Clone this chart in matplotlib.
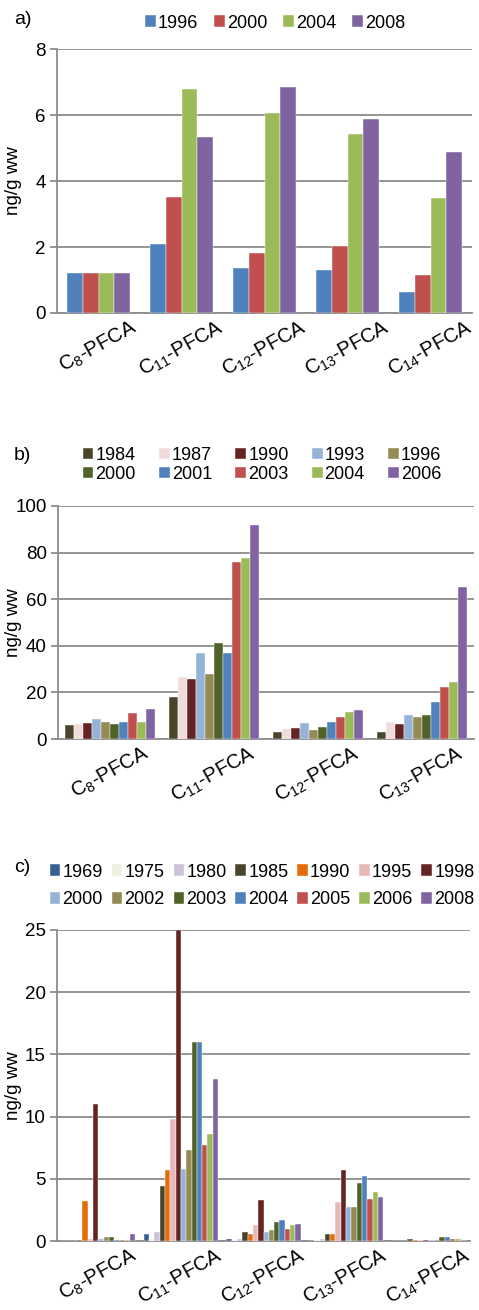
import matplotlib
matplotlib.use("Agg")
import matplotlib.pyplot as plt
import numpy as np

plt.rcParams['font.family'] = ['Liberation Sans', 'DejaVu Sans']
plt.rcParams['mathtext.fontset'] = 'custom'
plt.rcParams['mathtext.rm'] = 'Liberation Sans'
plt.rcParams['mathtext.default'] = 'regular'

W, H = 479, 1310

# ---- panel a
cats_a = ['C$_{8}$-PFCA', 'C$_{11}$-PFCA', 'C$_{12}$-PFCA', 'C$_{13}$-PFCA', 'C$_{14}$-PFCA']
years_a = ['1996', '2000', '2004', '2008']
vals_a = [
    [1.2, 2.1, 1.35, 1.3, 0.65],
    [1.2, 3.52, 1.83, 2.04, 1.15],
    [1.2, 6.8, 6.06, 5.42, 3.48],
    [1.2, 5.33, 6.86, 5.88, 4.88],
]
cols_a = ['#4F81BD', '#C0504D', '#9BBB59', '#8064A2']

# ---- panel b
cats_b = ['C$_{8}$-PFCA', 'C$_{11}$-PFCA', 'C$_{12}$-PFCA', 'C$_{13}$-PFCA']
years_b = ['1984', '1987', '1990', '1993', '1996', '2000', '2001', '2003', '2004', '2006']
vals_b = [
    [6.0, 18.0, 3.2, 3.2],
    [6.5, 26.5, 4.4, 7.3],
    [6.7, 25.8, 4.6, 6.6],
    [8.6, 37.0, 6.7, 10.2],
    [7.3, 28.0, 3.9, 9.5],
    [6.6, 41.0, 5.2, 10.2],
    [7.3, 37.0, 7.3, 15.8],
    [11.0, 75.8, 9.5, 22.2],
    [7.3, 77.8, 11.6, 24.3],
    [12.9, 92.0, 12.3, 65.2],
]
cols_b = ['#4A452A', '#F2DCDB', '#632423', '#95B3D7', '#948A54',
          '#4F6228', '#4F81BD', '#C0504D', '#9BBB59', '#8064A2']

# ---- panel c
cats_c = ['C$_{8}$-PFCA', 'C$_{11}$-PFCA', 'C$_{12}$-PFCA', 'C$_{13}$-PFCA', 'C$_{14}$-PFCA']
years_c = ['1969', '1975', '1980', '1985', '1990', '1995', '1998',
           '2000', '2002', '2003', '2004', '2005', '2006', '2008']
vals_c = [
    [0.0, 0.6, 0.2, 0.1, 0.0],
    [0.0, 0.15, 0.05, 0.05, 0.0],
    [0.0, 0.7, 0.2, 0.2, 0.0],
    [0.1, 4.4, 0.75, 0.6, 0.2],
    [3.2, 5.7, 0.6, 0.6, 0.1],
    [0.2, 9.8, 1.3, 3.1, 0.1],
    [11.0, 25.0, 3.3, 5.7, 0.1],
    [0.2, 5.8, 0.75, 2.7, 0.05],
    [0.35, 7.3, 0.9, 2.7, 0.1],
    [0.35, 16.0, 1.55, 4.7, 0.35],
    [0.05, 16.0, 1.7, 5.2, 0.35],
    [0.1, 7.7, 1.0, 3.4, 0.2],
    [0.1, 8.6, 1.3, 3.9, 0.2],
    [0.6, 13.0, 1.4, 3.5, 0.1],
]
cols_c = ['#376092', '#EBF1DE', '#CCC1DA', '#4A452A', '#E46C0A', '#E6B9B8', '#632423',
          '#95B3D7', '#948A54', '#4F6228', '#4F81BD', '#C0504D', '#9BBB59', '#8064A2']

fig = plt.figure(figsize=(W / 100, H / 100), dpi=100)


def px_axes(left, top, right, bottom):
    return fig.add_axes([left / W, 1 - bottom / H, (right - left) / W, (bottom - top) / H])


def draw(ax, cats, years, vals, cols, frac, ymax, ystep):
    n = len(years)
    x = np.arange(len(cats))
    w = frac / n
    for i in range(n):
        ax.bar(x - frac / 2 + w * (i + 0.5), vals[i], w, color=cols[i],
               label=years[i], zorder=3, edgecolor='white', linewidth=0.3)
    ax.set_xlim(-0.5, len(cats) - 0.5)
    ax.set_ylim(0, ymax)
    ax.set_yticks(np.arange(0, ymax + 0.01, ystep))
    ax.yaxis.grid(True, color='#8C8C8C', linewidth=1.3, zorder=0)
    for s in ['top', 'right']:
        ax.spines[s].set_visible(False)
    for s in ['left', 'bottom']:
        ax.spines[s].set_color('#8C8C8C')
        ax.spines[s].set_linewidth(1.3)
    ax.tick_params(axis='y', length=5, width=1.3, color='#8C8C8C', labelsize=13.5, pad=3)
    ax.set_xticks(x)
    ax.set_xticklabels(cats, rotation=29, ha='center', va='top', fontsize=14.5)
    ax.tick_params(axis='x', length=0, pad=3)
    ax.set_ylabel('ng/g ww', fontsize=13.5)
    bb = ax.get_position()
    ax.yaxis.set_label_coords((22 / W - bb.x0) / bb.width, 0.5)


def row_legend(ax, ncol, center, **kw):
    h, l = ax.get_legend_handles_labels()
    nrow = int(np.ceil(len(h) / ncol))
    order = [i * ncol + j for j in range(ncol) for i in range(nrow) if i * ncol + j < len(h)]
    ax.legend([h[k] for k in order], [l[k] for k in order], loc='center',
              bbox_to_anchor=(center[0] / W, 1 - center[1] / H), bbox_transform=fig.transFigure,
              ncol=ncol, frameon=False, fontsize=13, handlelength=0.6, handleheight=0.6,
              handletextpad=0.1, borderpad=0, **kw)


ax_a = px_axes(57, 49, 472, 313)
draw(ax_a, cats_a, years_a, vals_a, cols_a, 0.75, 8, 2)
row_legend(ax_a, 4, (275, 23), columnspacing=0.9)
fig.text(14 / W, 1 - 20 / H, 'a)', fontsize=14, va='center')

ax_b = px_axes(58, 506, 474, 739)
draw(ax_b, cats_b, years_b, vals_b, cols_b, 0.865, 100, 20)
row_legend(ax_b, 5, (262, 465), columnspacing=1.3, labelspacing=0.1)
fig.text(14 / W, 1 - 455 / H, 'b)', fontsize=14, va='center')

ax_c = px_axes(57, 930, 470, 1241)
draw(ax_c, cats_c, years_c, vals_c, cols_c, 0.9, 25, 5)
row_legend(ax_c, 7, (262, 886), columnspacing=0.5, labelspacing=0.6)
fig.text(14 / W, 1 - 868 / H, 'c)', fontsize=14, va='center')

fig.savefig('out.png', dpi=100)
